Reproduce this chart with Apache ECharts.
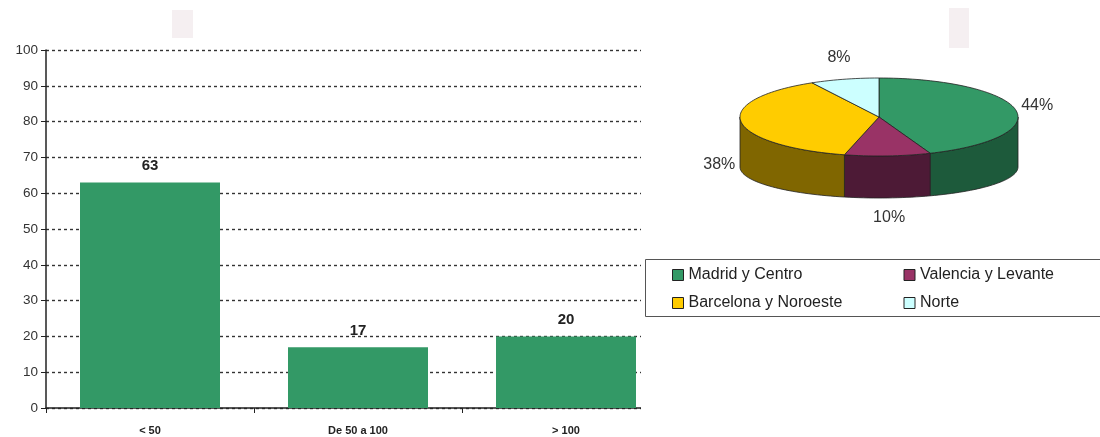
<!DOCTYPE html>
<html>
<head>
<meta charset="utf-8">
<script src="https://cdn.jsdelivr.net/npm/echarts@6/dist/echarts.min.js"></script>
<style>
html,body{margin:0;padding:0;background:#fff;}
#chart{width:1100px;height:437px;}
</style>
</head>
<body>
<div id="chart"></div>
<script>
// ---- data ----
const barCategories = ['< 50', 'De 50 a 100', '> 100'];
const barValues = [63, 17, 20];
const yTicks = [0, 10, 20, 30, 40, 50, 60, 70, 80, 90, 100];

const pieNames = ['Madrid y Centro', 'Valencia y Levante', 'Barcelona y Noroeste', 'Norte'];
const pieValues = [44, 10, 38, 8];

// ---- styles ----
const topColors = ['#339966', '#993366', '#FFCC00', '#CCFFFF'];
const sideColors = ['#1d5a3b', '#4d1a36', '#806600', '#669999'];
const narrow = '"Liberation Sans Narrow", "Liberation Sans", Arial, sans-serif';
const sans = '"Liberation Sans", Arial, sans-serif';

// 3D pie geometry (layout)
const P = { cx: 879, cy: 117, rx: 139, ry: 39, bcy: 167, bry: 31 };

const total = pieValues.reduce((a, b) => a + b, 0);
function topPt(deg) {
  const t = deg * Math.PI / 180;
  return [P.cx + P.rx * Math.sin(t), P.cy - P.ry * Math.cos(t)];
}
function botPt(deg) {
  const t = deg * Math.PI / 180;
  return [P.cx + P.rx * Math.sin(t), P.bcy - P.bry * Math.cos(t)];
}
function arc(fn, a0, a1) {
  const pts = [];
  const n = Math.max(2, Math.ceil(Math.abs(a1 - a0) / 2));
  for (let i = 0; i <= n; i++) pts.push(fn(a0 + (a1 - a0) * i / n));
  return pts;
}

function renderPie(params, api) {
  const idx = params.dataIndex;
  const v = api.value(0);
  let start = 0;
  for (let i = 0; i < idx; i++) start += pieValues[i];
  const a0 = start / total * 360;
  const a1 = (start + v) / total * 360;
  const children = [];
  // side face (front half only: 90..270)
  const s = Math.max(a0, 90), e = Math.min(a1, 270);
  if (e > s) {
    const pts = arc(topPt, s, e).concat(arc(botPt, e, s));
    children.push({
      type: 'polygon',
      shape: { points: pts },
      style: { fill: sideColors[idx], stroke: '#222', lineWidth: 0.8 }
    });
  }
  // top face
  const topPts = [[P.cx, P.cy]].concat(arc(topPt, a0, a1));
  children.push({
    type: 'polygon',
    shape: { points: topPts },
    style: { fill: topColors[idx], stroke: '#222', lineWidth: 0.8 }
  });
  // label
  const m = (a0 + a1) / 2;
  const t = m * Math.PI / 180;
  const k = 22;
  const lx = P.cx + (P.rx + k) * Math.sin(t);
  let ly = P.cy - (P.ry + k) * Math.cos(t);
  if (Math.cos(t) < 0) ly += 40;
  children.push({
    type: 'text',
    style: {
      x: lx, y: ly,
      text: Math.round(v / total * 100) + '%',
      fill: '#333', font: '16px ' + sans,
      align: 'center', verticalAlign: 'middle'
    }
  });
  return { type: 'group', children: children };
}

const chart = echarts.init(document.getElementById('chart'));
chart.setOption({
  backgroundColor: '#fff',
  animation: false,
  graphic: [
    { type: 'rect', z: 1, silent: true, shape: { x: 641, y: 0, width: 459, height: 437 }, style: { fill: '#fff' } },
    { type: 'rect', z: 1, silent: true, shape: { x: 172, y: 10, width: 21, height: 28 }, style: { fill: '#f5eff1' } },
    { type: 'rect', z: 1, silent: true, shape: { x: 949, y: 8, width: 20, height: 40 }, style: { fill: '#f5eff1' } },
    { type: 'rect', z: 1, silent: true, shape: { x: 645.5, y: 259.5, width: 470, height: 57 }, style: { fill: '#fff', stroke: '#555', lineWidth: 1 } }
  ],
  legend: {
    data: pieNames,
    left: 672, top: 267,
    width: 470,
    orient: 'horizontal',
    padding: 0,
    itemWidth: 11, itemHeight: 11, itemGap: 12,
    icon: 'rect',
    selectedMode: false,
    itemStyle: { borderColor: '#222', borderWidth: 1 },
    textStyle: { fontFamily: sans, fontSize: 16, color: '#222', width: 203, lineHeight: 16 },
    z: 5
  },
  grid: { left: 46, right: 430, top: 50, bottom: 29, containLabel: false },
  xAxis: {
    type: 'category',
    data: barCategories,
    axisLine: { lineStyle: { color: '#222', width: 1.5 } },
    axisTick: { show: true, length: 5, alignWithLabel: false, lineStyle: { color: '#222' } },
    axisLabel: { color: '#222', fontFamily: narrow, fontWeight: 'bold', fontSize: 11, margin: 17, interval: 0 },
    splitLine: { show: false }
  },
  yAxis: {
    type: 'value',
    min: yTicks[0], max: yTicks[yTicks.length - 1], interval: yTicks[1] - yTicks[0],
    axisLine: { show: true, lineStyle: { color: '#222', width: 1.5 } },
    axisTick: { show: true, length: 5, lineStyle: { color: '#222' } },
    axisLabel: { color: '#333', fontFamily: narrow, fontSize: 13.5, margin: 8 },
    splitLine: { show: true, lineStyle: { color: '#333', width: 1.4, type: [3, 3] } }
  },
  series: [
    {
      type: 'bar',
      data: barValues,
      barWidth: 140,
      z: 2,
      itemStyle: { color: '#339966' },
      label: { show: true, position: 'top', distance: 9, color: '#222', fontFamily: narrow, fontWeight: 'bold', fontSize: 15 }
    },
    {
      type: 'pie',
      name: 'regiones',
      radius: [0, 0],
      center: [P.cx, P.cy],
      silent: true,
      label: { show: false },
      labelLine: { show: false },
      data: pieNames.map((n, i) => ({ name: n, value: pieValues[i], itemStyle: { color: topColors[i] } })),
      z: 2
    },
    {
      type: 'custom',
      coordinateSystem: 'none',
      silent: true,
      z: 3,
      data: pieValues.map((v, i) => ({ name: pieNames[i], value: [v] })),
      renderItem: renderPie
    }
  ]
});
</script>
</body>
</html>
